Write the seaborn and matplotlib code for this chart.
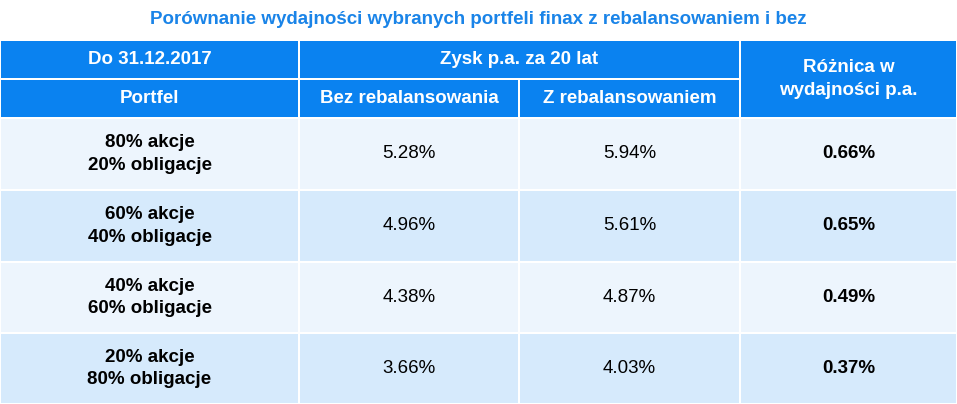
import matplotlib
matplotlib.use("Agg")
import matplotlib.pyplot as plt
from matplotlib.patches import Rectangle
import seaborn as sns

sns.set_theme(style="white")
plt.rcParams['font.family'] = ['Liberation Sans', 'DejaVu Sans']

title = "Porównanie wydajności wybranych portfeli finax z rebalansowaniem i bez"
portfolios = ["80% akcje\n20% obligacje", "60% akcje\n40% obligacje",
              "40% akcje\n60% obligacje", "20% akcje\n80% obligacje"]
bez = [5.28, 4.96, 4.38, 3.66]
z_reb = [5.94, 5.61, 4.87, 4.03]
roznica = [0.66, 0.65, 0.49, 0.37]

W, H = 957, 404
fig = plt.figure(figsize=(W / 100, H / 100), dpi=100)
ax = fig.add_axes([0, 0, 1, 1])
ax.set_xlim(0, W)
ax.set_ylim(H, 0)
ax.axis("off")

blue = "#0a82f0"
rowc = ["#edf5fd", "#d6eafc"]
cols = [0, 299, 519, 740, W]
hy = [40, 79, 118]
ry = [118, 190, 262, 333, H]
g = 2.5

def cell(x0, x1, y0, y1, c):
    ax.add_patch(Rectangle((x0 + g / 2, y0 + g / 2), x1 - x0 - g, y1 - y0 - g, color=c, lw=0))

ax.text(W / 2, 19, title, ha="center", va="center", color="#1a84e8", fontsize=13.5, fontweight="bold")

# headers
cell(0, cols[1], hy[0], hy[1], blue)
cell(0, cols[1], hy[1], hy[2], blue)
cell(cols[1], cols[3], hy[0], hy[1], blue)
cell(cols[1], cols[2], hy[1], hy[2], blue)
cell(cols[2], cols[3], hy[1], hy[2], blue)
cell(cols[3], W, hy[0], hy[2], blue)
hk = dict(color="white", fontsize=13.5, fontweight="bold", ha="center", va="center")
ax.text(cols[1] / 2, (hy[0] + hy[1]) / 2, "Do 31.12.2017", **hk)
ax.text(cols[1] / 2, (hy[1] + hy[2]) / 2, "Portfel", **hk)
ax.text((cols[1] + cols[3]) / 2, (hy[0] + hy[1]) / 2, "Zysk p.a. za 20 lat", **hk)
ax.text((cols[1] + cols[2]) / 2, (hy[1] + hy[2]) / 2, "Bez rebalansowania", **hk)
ax.text((cols[2] + cols[3]) / 2, (hy[1] + hy[2]) / 2, "Z rebalansowaniem", **hk)
ax.text((cols[3] + W) / 2, (hy[0] + hy[2]) / 2, "Różnica w\nwydajności p.a.", linespacing=1.4, **hk)

for i in range(4):
    y0, y1 = ry[i], ry[i + 1]
    c = rowc[i % 2]
    for j in range(4):
        cell(cols[j], cols[j + 1], y0, y1, c)
    ym = (y0 + y1) / 2
    ax.text(cols[1] / 2, ym, portfolios[i], ha="center", va="center", fontsize=13.5,
            fontweight="bold", color="black", linespacing=1.4)
    ax.text((cols[1] + cols[2]) / 2, ym, f"{bez[i]:.2f}%", ha="center", va="center", fontsize=13.5, color="black")
    ax.text((cols[2] + cols[3]) / 2, ym, f"{z_reb[i]:.2f}%", ha="center", va="center", fontsize=13.5, color="black")
    ax.text((cols[3] + W) / 2, ym, f"{roznica[i]:.2f}%", ha="center", va="center", fontsize=13.5,
            fontweight="bold", color="black")

fig.savefig("out.png", dpi=100)
